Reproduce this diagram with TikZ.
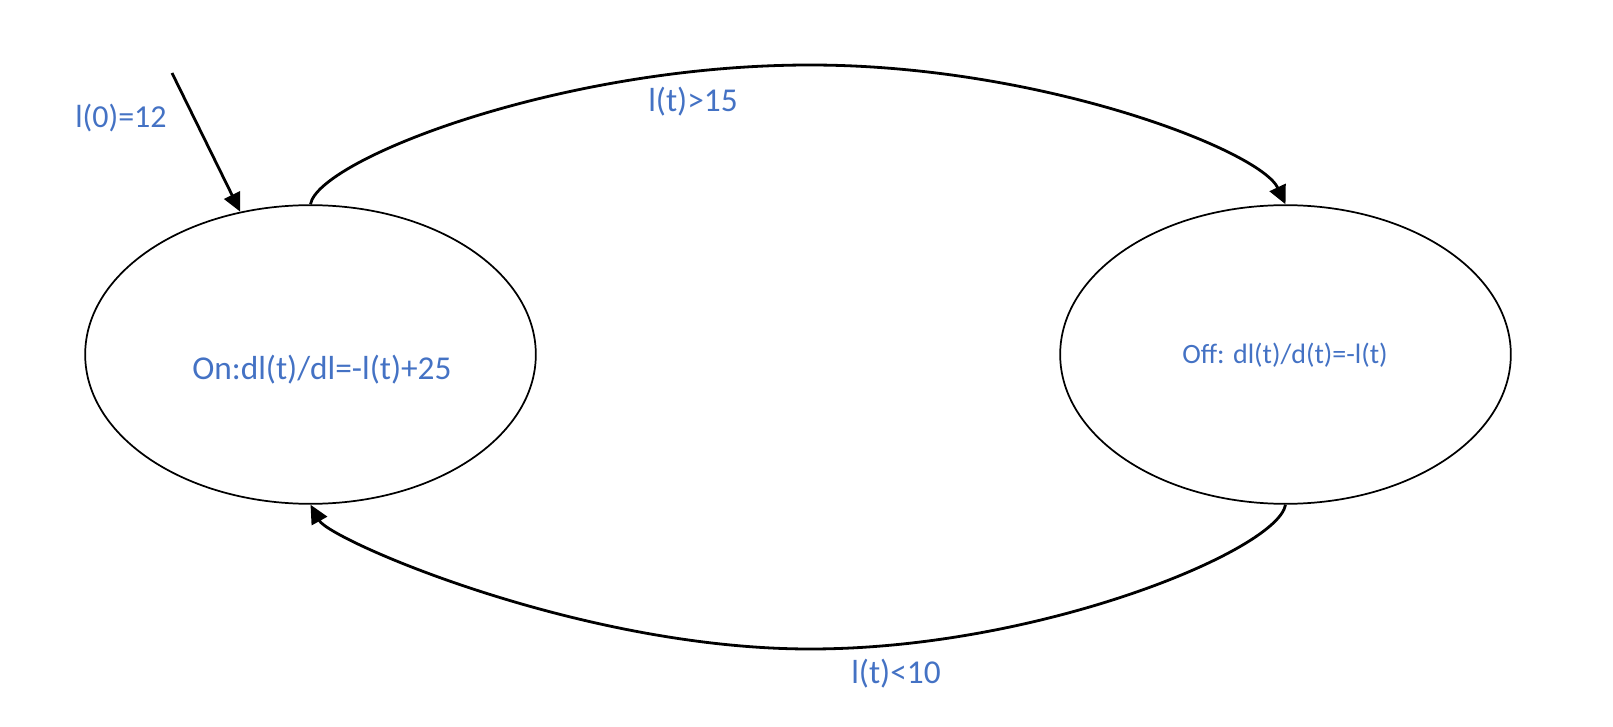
\documentclass[tikz,border=0pt]{standalone}
\usepackage{fontspec}
\setmainfont{Carlito}
\usetikzlibrary{shapes.geometric,arrows.meta}
\definecolor{txtblue}{HTML}{4472C4}
\tikzstyle{state}=[ellipse,draw,line width=1.3pt,inner sep=0pt,minimum width=338pt,minimum height=224pt]
\tikzstyle{lbl}=[text=txtblue,anchor=base,inner sep=0pt,font=\fontsize{25}{30}\selectfont]
\tikzstyle{arr}=[line width=2.1pt,-{Triangle[length=14pt,width=13pt]}]

\begin{document}
\begin{tikzpicture}[x=0.75pt,y=-0.75pt]
\useasboundingbox (0,0) rectangle (1613,727);
\node[state] (on) at (310.5, 354.5) {};
\node[state] (off) at (1285.5, 354.5) {};
\node[lbl] (ontxt) at (322, 379) {On:dl(t)/dl=-l(t)+25};
\node[lbl,font=\fontsize{21}{25}\selectfont] (offtxt) at (1285, 363) {Off: dl(t)/d(t)=-l(t)};
\coordinate (init) at (172, 73);
\node[lbl,font=\fontsize{24}{29}\selectfont] (initlbl) at (121, 128) {l(0)=12};
\draw[arr] (init) -- (on);
\draw[arr] (on.north) .. controls (318, 160) and (560, 65) .. (810, 65)
  .. controls (1040, 65) and (1260, 150) .. (off.north);
\node[lbl] (uplbl) at (693, 112) {l(t)>15};
\draw[arr] (off.south) .. controls (1278, 550) and (1040, 649) .. (810, 649)
  .. controls (580, 649) and (330, 540) .. (on.south);
\node[lbl] (downlbl) at (896, 683) {l(t)<10};
\end{tikzpicture}
\end{document}
